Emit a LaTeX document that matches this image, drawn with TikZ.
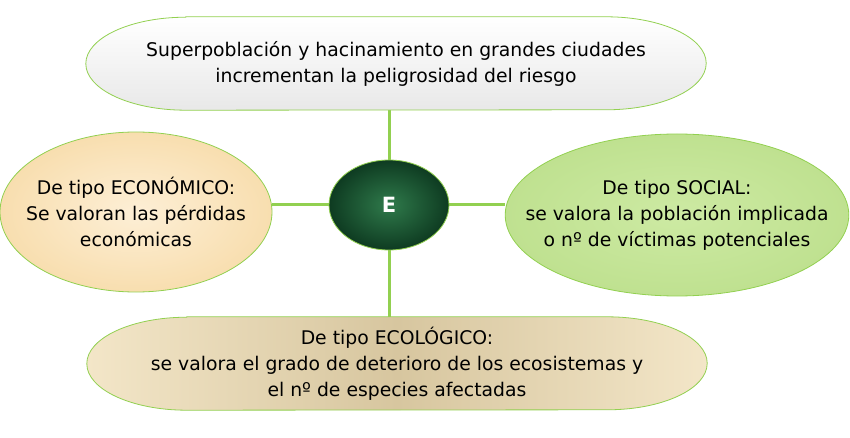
\documentclass[tikz,border=0pt]{standalone}
\usepackage{fontspec}
\setmainfont{DejaVu Sans}
\usetikzlibrary{shapes.geometric, positioning, backgrounds}
\definecolor{linkgreen}{HTML}{92D050}
\definecolor{tanlight}{HTML}{FDEFD6}
\definecolor{tandark}{HTML}{F8DEAF}
\definecolor{leaflight}{HTML}{CDEAA3}
\definecolor{leafdark}{HTML}{BFE190}
\definecolor{sandlight}{HTML}{F3E6C8}
\definecolor{sanddark}{HTML}{D7C69F}
\definecolor{jadelight}{HTML}{2F7A4B}
\definecolor{jadedark}{HTML}{0E3B21}
\tikzset{
  txt/.style={align=center, font=\fontsize{18.8}{26}\selectfont, inner sep=0pt},
  link/.style={draw=linkgreen, line width=3pt},
  bubble/.style={ellipse, draw=linkgreen, line width=0.8pt, txt, inner xsep=-30pt}}

\begin{document}
\begin{tikzpicture}[x=1pt, y=-1pt]
\useasboundingbox (0,0) rectangle (850,438);
% text holders of the two long boxes
\node[txt, minimum width=620pt, minimum height=93pt] (crowd) at (396,63.5)
  {Superpoblación y hacinamiento en grandes ciudades\\incrementan la peligrosidad del riesgo};
\node[txt, minimum width=620pt, minimum height=93pt] (eco) at (397,363.5)
  {De tipo ECOLÓGICO:\\se valora el grado de deterioro de los ecosistemas y\\el nº de especies afectadas};
% centre and sides
\node[bubble, inner xsep=0pt, minimum width=120pt, minimum height=90pt, inner color=jadelight, outer color=jadedark,
  text=white, font=\fontsize{21}{22}\bfseries\selectfont] (risk) at (389,205) {E};
\node[bubble, minimum width=272pt, minimum height=160pt, inner color=tanlight, outer color=tandark]
  (money) at (136,212) {De tipo ECONÓMICO:\\Se valoran las pérdidas\\económicas};
\node[bubble, minimum width=334pt, minimum height=162pt, inner color=leaflight, outer color=leafdark]
  (people) at (677,215) {De tipo SOCIAL:\\se valora la población implicada\\o nº de víctimas potenciales};

\begin{scope}[on background layer]
\draw[link] (crowd.south -| risk.north) -- (risk.north);
\draw[link] (risk.south) -- (risk.south |- eco.north);
\draw[link] (money.east |- risk.west) -- (risk.west);
\draw[link] (risk.east) -- (people.west |- risk.east);
\shadedraw[top color=white, bottom color=black!9, draw=linkgreen, line width=0.8pt]
  ([xshift=100pt]crowd.north west) -- ([xshift=-100pt]crowd.north east)
  arc[start angle=90, end angle=-90, x radius=100pt, y radius=46.5pt]
  -- ([xshift=100pt]crowd.south west)
  arc[start angle=270, end angle=90, x radius=100pt, y radius=46.5pt] -- cycle;
\shadedraw[left color=sandlight, right color=sandlight, middle color=sanddark, draw=linkgreen, line width=0.8pt]
  ([xshift=100pt]eco.north west) -- ([xshift=-100pt]eco.north east)
  arc[start angle=90, end angle=-90, x radius=100pt, y radius=46.5pt]
  -- ([xshift=100pt]eco.south west)
  arc[start angle=270, end angle=90, x radius=100pt, y radius=46.5pt] -- cycle;
\end{scope}
\end{tikzpicture}
\end{document}
